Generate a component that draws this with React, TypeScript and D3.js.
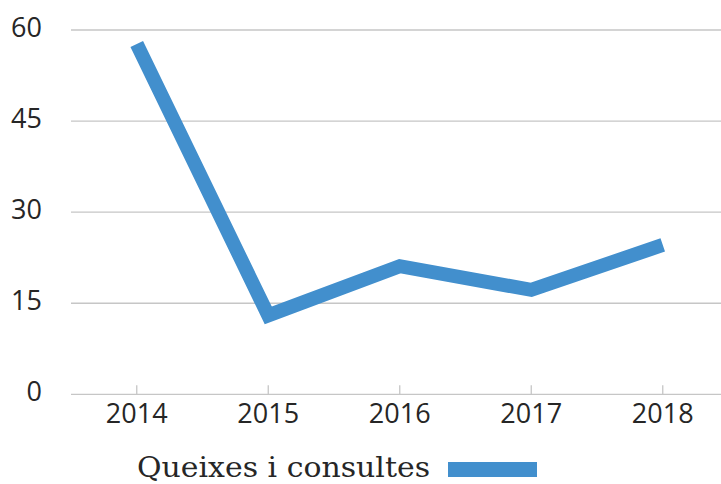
import * as d3 from 'd3';

const years = ['2014', '2015', '2016', '2017', '2018'];
const queixes = [57.7, 13, 21.1, 17.2, 24.6];
const yTicks = [0, 15, 30, 45, 60];
const seriesName = 'Queixes i consultes';

const W = 721;
const H = 484;
const left = 71;
const top = 30;
const bottom = 394.3;

export default function App() {
    const x = d3.scaleBand<string>()
        .domain(years)
        .range([left, left + 131.5 * years.length])
        .padding(0);

    const y = d3.scaleLinear()
        .domain([0, 60])
        .range([bottom, top]);

    const cx = (d: string) => (x(d) || 0) + x.bandwidth() / 2;

    const line = d3.line<number>()
        .x((_, i) => cx(years[i]))
        .y(d => y(d));

    const blue = '#428fcd';
    const grid = '#c6c6c6';

    return (
        <svg width={W} height={H} style={{ position: 'absolute', left: 0, top: 0 }}>
            {/* gridlines */}
            {yTicks.map(t => (
                <line key={t} x1={left} x2={W} y1={y(t)} y2={y(t)}
                    stroke={grid} strokeWidth={1.3} />
            ))}
            {/* x tick marks pointing up */}
            {years.map(d => (
                <line key={d} x1={cx(d)} x2={cx(d)} y1={bottom - 9} y2={bottom}
                    stroke={grid} strokeWidth={1.3} />
            ))}
            {/* y labels */}
            {yTicks.map(t => (
                <text key={t} x={42} y={y(t) + 7} textAnchor="end"
                    fontFamily="'Open Sans', sans-serif" fontSize={27} fill="#262626">
                    {t}
                </text>
            ))}
            {/* x labels */}
            {years.map(d => (
                <text key={d} x={cx(d)} y={423} textAnchor="middle"
                    fontFamily="'Open Sans', sans-serif" fontSize={27} fill="#262626">
                    {d}
                </text>
            ))}
            <path d={line(queixes) || ''} fill="none" stroke={blue} strokeWidth={14}
                strokeLinejoin="miter" />
            {/* legend */}
            <text x={137} y={477} fontFamily="'DejaVu Serif', serif" fontSize={27} fill="#262626"
                textLength={293} lengthAdjust="spacingAndGlyphs">
                {seriesName}
            </text>
            <rect x={448} y={462} width={89} height={15} fill={blue} />
        </svg>
    );
}
